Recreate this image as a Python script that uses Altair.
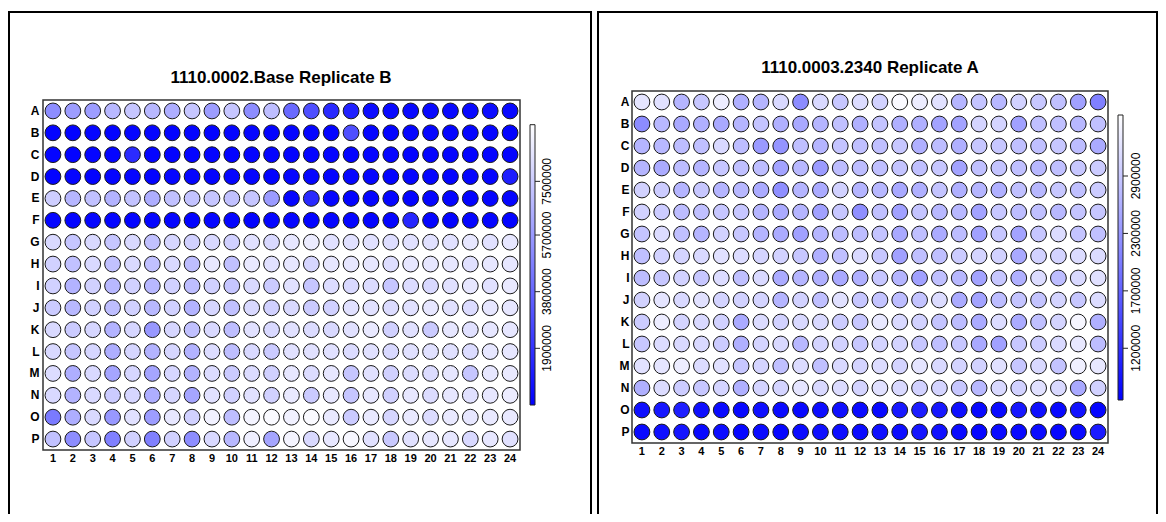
import altair as alt
import pandas as pd

ROWS = list("ABCDEFGHIJKLMNOP")
COLS = list(range(1, 25))
TITLE_1 = "1110.0002.Base Replicate B"
TITLE_2 = "1110.0003.2340 Replicate A"

# ---- Plate 1 readings (millions) ----
P1_A = [5.2,5.8,5.8,6.8,7.3,6.8,6.4,7.3,5.8,7.3,5.2,7.0,3.9,2.9,1.5,1.2,0.4,0.3,0.3,0.3,0.3,0.3,0.4,0.3]
P1_B = [0.2,0.1,0.2,0.1,0.2,0.2,0.1,0.2,0.1,0.2,0.2,0.1,0.2,0.2,0.1,2.9,0.2,0.1,0.2,0.2,0.1,0.2,0.2,0.1]
P1_C = [0.2,0.1,0.2,0.2,1.6,0.2,0.1,0.2,0.2,0.1,0.2,0.2,0.1,0.2,0.2,0.1,0.2,0.2,0.1,0.2,0.2,0.1,0.2,0.2]
P1_D = [0.1,0.2,0.1,0.2,0.2,0.1,0.2,0.2,0.1,0.2,0.2,0.1,0.2,0.2,0.1,0.2,0.2,0.1,0.2,0.2,0.1,0.2,0.2,1.1]
P1_E = [7.6,6.7,7.1,6.6,7.2,6.4,7.1,7.2,7.3,7.1,7.3,5.7,0.2,1.5,0.2,0.1,0.2,0.2,0.1,0.2,0.2,0.1,0.2,0.2]
P1_F = [0.2,0.1,0.2,0.2,0.1,0.2,0.2,0.1,0.2,0.2,0.1,0.2,0.2,0.1,0.2,0.2,0.1,0.2,1.4,0.2,0.1,0.2,0.2,0.1]
P1_G = [8.0,7.3,8.0,7.3,8.0,7.1,7.9,7.7,8.0,7.7,8.3,8.0,8.5,8.7,8.3,8.3,8.3,8.2,8.3,8.3,8.3,8.5,8.3,8.5]
P1_H = [7.7,7.1,8.0,7.1,8.0,7.1,8.0,7.0,8.5,7.1,8.6,8.3,8.5,7.9,8.5,8.5,8.5,8.2,8.5,8.5,8.5,8.3,8.5,8.5]
P1_I = [7.7,6.6,7.7,6.8,7.7,6.8,7.7,7.0,7.7,7.3,8.0,7.5,8.3,7.3,8.1,8.0,8.1,7.3,8.1,8.0,8.3,8.5,8.3,8.6]
P1_J = [7.5,6.8,7.7,7.0,7.7,6.8,7.7,6.6,7.9,7.1,8.0,7.7,8.0,7.5,7.7,8.3,8.3,8.1,8.3,8.5,8.3,8.1,8.5,8.5]
P1_K = [8.0,7.5,7.9,6.6,7.9,5.6,7.9,7.1,8.0,7.0,8.3,8.0,8.3,8.1,8.0,8.3,8.6,7.7,8.3,7.5,8.5,8.3,8.5,8.5]
P1_L = [8.0,7.3,7.9,6.4,7.9,6.6,7.9,6.6,8.1,7.0,8.0,7.5,8.3,8.3,8.3,8.1,8.3,8.0,8.3,8.3,8.3,8.1,8.5,8.5]
P1_M = [8.1,6.4,8.0,6.1,7.9,6.1,7.9,6.6,8.1,7.5,8.1,7.7,8.5,8.1,8.5,7.3,8.3,7.7,8.1,8.1,8.5,7.3,8.5,8.6]
P1_N = [8.0,6.6,8.0,7.5,7.9,6.4,7.9,6.1,8.3,7.7,8.3,7.7,8.6,7.5,8.5,7.3,8.5,7.7,8.5,8.1,8.5,8.3,8.5,8.7]
P1_O = [4.5,6.4,8.0,5.6,8.3,5.8,8.5,7.7,8.9,7.0,9.0,9.2,8.9,9.2,8.6,7.5,8.6,7.9,8.6,8.1,8.6,8.5,8.6,8.6]
P1_P = [7.1,5.2,7.3,4.7,7.7,4.7,7.7,5.2,8.0,6.8,8.8,6.1,9.0,8.0,8.5,9.1,8.3,7.4,8.3,8.5,8.5,8.0,8.5,8.3]

# ---- Plate 2 readings (millions) ----
P2_A = [3.20,3.15,2.66,2.86,3.29,2.60,2.66,3.06,2.20,3.06,2.86,3.09,2.98,3.43,3.29,3.15,2.66,2.83,2.69,2.98,2.86,2.78,2.43,2.06]
P2_B = [2.20,2.69,2.52,2.60,2.52,2.66,2.83,2.60,2.52,2.66,2.78,2.60,2.83,2.60,2.60,2.46,2.46,3.00,3.00,2.43,2.78,2.78,2.69,2.78]
P2_C = [2.66,2.69,2.75,2.78,3.06,2.75,2.35,2.29,2.78,2.66,2.83,2.78,2.78,2.86,2.60,2.75,2.60,2.86,2.86,2.78,2.78,2.86,2.75,2.55]
P2_D = [2.66,2.55,2.75,2.66,2.86,2.78,2.75,2.46,2.69,2.37,2.75,2.75,2.78,2.83,2.78,2.86,2.46,2.78,2.83,2.78,2.69,2.78,2.86,2.92]
P2_E = [2.98,2.92,2.66,2.86,2.66,2.69,2.55,2.23,2.66,2.55,2.98,2.66,2.69,2.52,2.60,2.83,2.60,2.66,2.60,2.78,2.69,2.86,2.78,2.92]
P2_F = [2.98,2.92,2.75,2.78,2.86,2.86,2.66,2.55,2.66,2.43,2.86,2.23,2.78,2.43,2.83,2.69,2.69,2.46,2.86,2.75,2.78,2.69,2.83,2.86]
P2_G = [2.83,3.09,2.78,2.66,2.98,2.86,2.66,2.55,2.43,2.66,2.75,2.75,2.83,2.52,2.78,2.55,2.75,2.43,2.86,2.46,2.86,3.09,2.83,2.78]
P2_H = [2.78,2.98,3.00,3.06,3.15,3.09,3.00,2.98,2.86,2.60,2.78,3.06,2.86,2.43,2.78,2.78,2.92,3.00,2.98,2.52,2.98,3.00,3.09,3.09]
P2_I = [2.75,2.86,2.98,2.86,3.09,2.78,3.06,2.55,2.66,2.60,2.52,2.60,2.86,2.66,2.43,2.78,2.69,2.46,2.86,2.60,3.09,2.75,3.06,3.15]
P2_J = [2.98,3.20,3.06,3.15,3.00,2.98,3.00,2.66,2.98,2.78,3.15,2.86,2.83,2.75,2.83,3.09,2.55,2.46,2.75,2.83,2.83,3.00,2.86,3.09]
P2_K = [2.92,3.29,3.00,3.06,2.98,2.55,3.09,2.98,3.06,3.06,2.92,2.86,3.23,3.06,2.98,2.83,2.75,2.55,3.09,2.55,2.78,3.00,3.38,2.60]
P2_L = [2.86,3.09,3.06,3.06,2.92,2.60,3.00,3.06,2.69,3.00,2.98,2.86,3.00,3.00,2.86,2.78,2.86,2.52,2.43,2.86,2.92,3.06,3.23,2.75]
P2_M = [3.15,3.20,3.29,3.09,3.15,2.86,3.00,2.78,3.09,2.78,3.06,3.00,3.09,3.00,3.20,3.06,3.00,2.98,3.15,2.86,3.06,2.83,3.32,3.23]
P2_N = [2.60,3.09,2.92,2.86,3.00,2.60,3.00,3.00,3.20,3.06,3.09,3.00,3.15,3.06,2.98,3.00,2.86,2.69,3.06,2.98,3.15,3.06,2.52,2.98]
P2_O = [0.80,0.89,0.97,0.80,0.74,0.72,0.80,0.74,0.72,0.77,0.80,0.74,0.72,0.89,0.94,0.89,0.80,0.72,0.74,0.89,0.80,0.72,0.83,0.69]
P2_P = [0.74,0.80,0.86,0.72,0.77,0.69,0.74,0.69,0.74,0.80,0.77,0.74,0.80,0.77,0.86,0.80,0.74,0.69,0.74,0.72,0.74,0.69,0.74,0.92]

P1_ROWS = [P1_A, P1_B, P1_C, P1_D, P1_E, P1_F, P1_G, P1_H, P1_I, P1_J, P1_K, P1_L, P1_M, P1_N, P1_O, P1_P]
P2_ROWS = [P2_A, P2_B, P2_C, P2_D, P2_E, P2_F, P2_G, P2_H, P2_I, P2_J, P2_K, P2_L, P2_M, P2_N, P2_O, P2_P]

P1_DOMAIN = [0.0, 9.4]
P1_TICKS = [1.9, 3.8, 5.7, 7.5]
P1_TICK_LABELS = ["1900000", "3800000", "5700000", "7500000"]
P2_DOMAIN = [0.632, 3.486]
P2_TICKS = [1.15, 1.725, 2.3, 2.875]
P2_TICK_LABELS = ["1200000", "1700000", "2300000", "2900000"]

FONT = "Liberation Sans"

# ---- layout (svg pixel coordinates) ----
G1 = dict(x0=35, x1=512, y0=92, y1=442, row_lab_x=31.5, col_lab_y=451,
          title_x=273, title_y=70, cb_x0=522, cb_x1=527, cb_y0=116.7, cb_y1=397,
          cb_lab_x=539, frame=(1, 583, 4, 520))
G2 = dict(x0=624, x1=1100, y0=83, y1=435, row_lab_x=621.5, col_lab_y=444,
          title_x=862, title_y=60, cb_x0=1110, cb_x1=1115, cb_y0=107, cb_y1=392,
          cb_lab_x=1128, frame=(590, 1149, 4, 520))


def plate_layers(rows_vals, domain, ticks, tick_labels, title, g):
    recs = []
    for ri, (r, vals) in enumerate(zip(ROWS, rows_vals)):
        for c, v in zip(COLS, vals):
            recs.append({"row": r, "ri": ri + 1, "col": c, "value": v * 1e6})
    df = pd.DataFrame(recs)

    xs = alt.Scale(domain=[0.5, 24.5], range=[g["x0"], g["x1"]], nice=False, zero=False)
    ys = alt.Scale(domain=[0.5, 16.5], range=[g["y0"], g["y1"]], nice=False, zero=False)
    lo, hi = domain[0] * 1e6, domain[1] * 1e6
    cs = alt.Scale(domain=[lo, hi], range=["#0000ff", "#ffffff"], interpolate="rgb", clamp=True)
    cbs = alt.Scale(domain=[lo, hi], range=[g["cb_y1"], g["cb_y0"]], nice=False, zero=False)

    fx0, fx1, fy0, fy1 = g["frame"]
    frame = alt.Chart(pd.DataFrame({"k": [0]})).mark_rect(
        fillOpacity=0, stroke="black", strokeWidth=2
    ).encode(x=alt.value(fx0), x2=alt.value(fx1), y=alt.value(fy0), y2=alt.value(fy1))

    box = alt.Chart(pd.DataFrame({"k": [0]})).mark_rect(
        fillOpacity=0, stroke="#333333", strokeWidth=1.5
    ).encode(x=alt.value(g["x0"]), x2=alt.value(g["x1"]), y=alt.value(g["y0"]), y2=alt.value(g["y1"]))

    wells = alt.Chart(df).mark_circle(
        size=250, opacity=1, stroke="#1a1a1a", strokeWidth=1
    ).encode(
        x=alt.X("col:Q", scale=xs, axis=None),
        y=alt.Y("ri:Q", scale=ys, axis=None),
        color=alt.Color("value:Q", scale=cs, legend=None),
    )

    rdf = pd.DataFrame({"row": ROWS, "ri": list(range(1, 17))})
    row_labels = alt.Chart(rdf).mark_text(
        align="right", baseline="middle", font=FONT, fontSize=12, fontWeight="bold", color="black"
    ).encode(y=alt.Y("ri:Q", scale=ys, axis=None), x=alt.value(g["row_lab_x"]), text="row:N")

    cdf = pd.DataFrame({"col": COLS})
    col_labels = alt.Chart(cdf).mark_text(
        align="center", baseline="middle", font=FONT, fontSize=11, fontWeight="bold", color="black"
    ).encode(x=alt.X("col:Q", scale=xs, axis=None), y=alt.value(g["col_lab_y"]), text="col:N")

    ttl = alt.Chart(pd.DataFrame({"t": [title]})).mark_text(
        align="center", baseline="middle", font=FONT, fontSize=17, fontWeight="bold", color="black"
    ).encode(x=alt.value(g["title_x"]), y=alt.value(g["title_y"]), text="t:N")

    bar = alt.Chart(pd.DataFrame({"lo": [lo], "hi": [hi]})).mark_rect(
        fill={"x1": 0, "y1": 1, "x2": 0, "y2": 0, "gradient": "linear",
              "stops": [{"offset": 0, "color": "#0000ff"}, {"offset": 1, "color": "#ffffff"}]},
        stroke="#222222", strokeWidth=1,
    ).encode(
        y=alt.Y("lo:Q", scale=cbs, axis=None), y2="hi:Q",
        x=alt.value(g["cb_x0"]), x2=alt.value(g["cb_x1"]),
    )

    tdf = pd.DataFrame({"v": [t * 1e6 for t in ticks], "lab": tick_labels})
    tick_marks = alt.Chart(tdf).mark_rule(color="#222222", strokeWidth=1).encode(
        y=alt.Y("v:Q", scale=cbs, axis=None),
        x=alt.value(g["cb_x1"]), x2=alt.value(g["cb_x1"] + 5),
    )
    tick_text = alt.Chart(tdf).mark_text(
        angle=270, align="center", baseline="middle", font=FONT, fontSize=12, color="black"
    ).encode(y=alt.Y("v:Q", scale=cbs, axis=None), x=alt.value(g["cb_lab_x"]), text="lab:N")

    return [frame, wells, box, row_labels, col_labels, ttl, bar, tick_marks, tick_text]


layers = plate_layers(P1_ROWS, P1_DOMAIN, P1_TICKS, P1_TICK_LABELS, TITLE_1, G1) + \
         plate_layers(P2_ROWS, P2_DOMAIN, P2_TICKS, P2_TICK_LABELS, TITLE_2, G2)

chart = alt.layer(*layers).resolve_scale(
    x="independent", y="independent", color="independent"
).properties(
    width=1150, height=506, autosize="none", padding=0, background="white"
).configure_view(stroke=None)

chart.save("out.html", embed_options={"renderer": "svg", "actions": False})
